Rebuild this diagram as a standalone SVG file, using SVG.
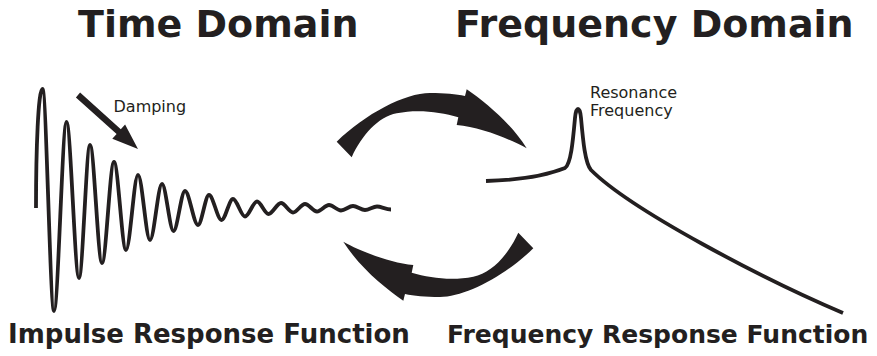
<svg xmlns="http://www.w3.org/2000/svg" width="877" height="356" viewBox="0 0 877 356">
<style>
.title{font-family:"DejaVu Sans","Verdana",sans-serif;font-weight:bold;fill:#231f20}
.lbl{font-family:"DejaVu Sans","Verdana",sans-serif;font-size:16px;fill:#231f20}
.curve{fill:none;stroke:#231f20;stroke-width:3.8;stroke-linejoin:round}
.solid{fill:#231f20;stroke:none}
</style>
<rect width="877" height="356" fill="#ffffff"/>
<g id="title-time"><text class="title" x="78" y="37" font-size="38">Time Domain</text></g>
<g id="title-frequency"><text class="title" x="455" y="37" font-size="38">Frequency Domain</text></g>
<g id="impulse-response">
<path class="curve" d="M36,208 C36,150 38.2,89 42.5,89 C46.3,89 50.2,311 54,311 C58.1,311 62.4,122 66.5,122 C70.6,122 74.9,278 79,278 C82.6,278 86.4,145 90,145 C94,145 98,263 102,263 C106,263 110,162 114,162 C118,162 122,250 126,250 C130,250 134,175 138,175 C142,175 146,240 150,240 C154,240 158,184 162,184 C165.8,184 169.7,231 173.5,231 C177.3,231 181.2,191 185,191 C189.3,191 193.7,225 198,225 C201.6,225 205.4,195 209,195 C213.1,195 217.4,220 221.5,220 C225.3,220 229.2,199 233,199 C237,199 241,216.5 245,216.5 C249,216.5 253,201.5 257,201.5 C260.8,201.5 264.7,214 268.5,214 C272.6,214 276.9,203 281,203 C285,203 289,212.5 293,212.5 C297,212.5 301,204 305,204 C309,204 313,211.5 317,211.5 C321,211.5 325,205 329,205 C333,205 337,210.5 341,210.5 C345,210.5 349,206 353,206 C357,206 361,210 365,210 C369,210 373,206.5 377,206.5 C381,206.5 386,209.5 391,209.5"/>
<text class="title" x="8" y="343" font-size="26">Impulse Response Function</text>
</g>
<g id="damping-label"><text class="lbl" x="113.5" y="112">Damping</text></g>
<g id="frequency-response">
<path class="curve" d="M486,181 C520,180 545,176 565,168 C571,164 573,140 575,118 C576,106 580,106 581,118 C583,140 585,163 591,170 C631,210 763,279 843,313"/>
<text class="title" x="447" y="343" font-size="25">Frequency Response Function</text>
</g>
<g id="resonance-label"><text class="lbl" x="590" y="98" font-size="15">Resonance</text><text class="lbl" x="590" y="115.5" font-size="15">Frequency</text></g>
<g id="connectors">
<polygon class="solid" points="75.9,97.4 80.1,92.6 120.8,129.2 125.1,124.5 138,149 112.3,138.7 116.6,134"/>
<path id="arrow-forward" class="solid" d="M336.7,141.7 C365,114 405,93 430,93 C445,93 456,94 465,96 L466.7,89.3 C485,102 510,122 526.7,148.3 C510,139 480,127 456.7,125 L458.3,117.3 C440,112 418,109 396.7,113.3 C378,117 362,135 351.7,157.3 Z"/>
<path id="arrow-inverse" class="solid" transform="rotate(180 435 195)" d="M336.7,141.7 C365,114 405,93 430,93 C445,93 456,94 465,96 L466.7,89.3 C485,102 510,122 526.7,148.3 C510,139 480,127 456.7,125 L458.3,117.3 C440,112 418,109 396.7,113.3 C378,117 362,135 351.7,157.3 Z"/>
</g>
</svg>
